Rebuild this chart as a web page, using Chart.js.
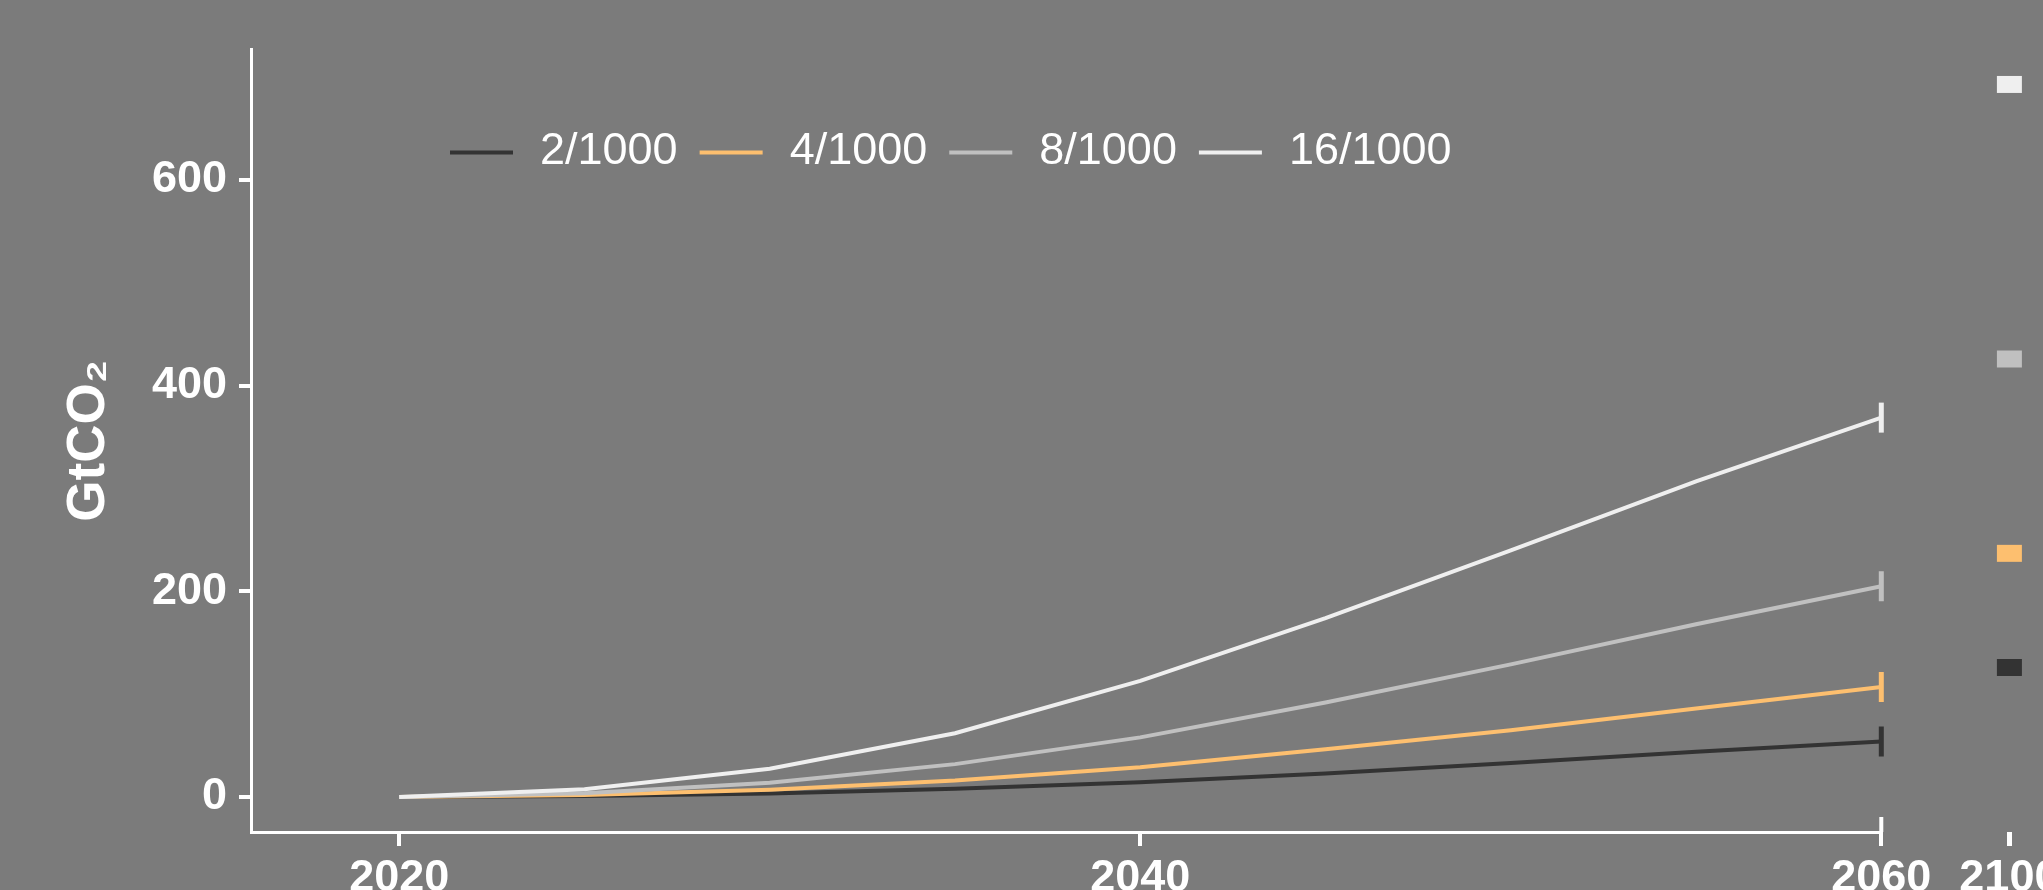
<!DOCTYPE html>
<html>
<head>
<meta charset="utf-8">
<script src="https://cdn.jsdelivr.net/npm/chart.js@4.4.0/dist/chart.umd.min.js"></script>
<style>
  html, body { margin: 0; padding: 0; background: #7b7b7b; overflow: hidden; }
  #wrap { position: relative; width: 2167px; height: 890px; }
</style>
</head>
<body>
<div id="wrap"><canvas id="chart"></canvas></div>
<script>
// cumulative removals, GtCO2
var years = [2020, 2025, 2030, 2035, 2040, 2045, 2050, 2055, 2060];
var seriesNames = ['2/1000', '4/1000', '8/1000', '16/1000'];
var seriesColors = ['#333333', '#fdbf6f', '#c0c0c0', '#efefef'];
var s2 = [0, 1, 3.5, 8, 14.5, 23, 33, 44, 54];
var s4 = [0, 1.9, 7, 16, 29, 46.5, 65, 86, 107];
var s8 = [0, 3.8, 14, 32, 58, 92, 129, 168, 205];
var s16 = [0, 7.6, 27.5, 62, 113, 174, 240, 307, 369];
var label2100 = '2100';
var values2100 = [126, 237, 426, 693];
var xTicks = [2020, 2040, 2060];
var yTicks = [0, 200, 400, 600];

var seriesValues = [s2, s4, s8, s16];
var FONT = "'Liberation Sans', Arial, Helvetica, sans-serif";
Chart.defaults.font.family = FONT;
Chart.defaults.color = '#ffffff';

var lineSets = seriesValues.map(function (vals, i) {
  return {
    label: seriesNames[i],
    data: years.map(function (yr, j) { return {x: yr, y: vals[j]}; }),
    xAxisID: 'x',
    borderColor: seriesColors[i],
    borderWidth: 4,
    tension: 0,
    fill: false,
    clip: false,
    order: 4 - i,
    pointStyle: 'line',
    pointRotation: 90,
    pointBorderWidth: 5,
    pointBorderColor: seriesColors[i],
    pointRadius: function (ctx) { return ctx.dataIndex === years.length - 1 ? 15 : 0; }
  };
});

var endSet = {
  type: 'scatter',
  label: label2100,
  data: values2100.map(function (v) { return {x: label2100, y: v}; }),
  xAxisID: 'x2',
  showLine: false,
  clip: false,
  pointStyle: 'line',
  pointRotation: 0,
  pointRadius: 12.5,
  pointBorderWidth: 17,
  pointBorderColor: seriesColors,
  pointBackgroundColor: seriesColors
};

function noPad(s) { s.paddingLeft = 0; s.paddingRight = 0; s.paddingTop = 0; s.paddingBottom = 0; }

const legendLines = {
  id: 'legendLines',
  afterDraw(chart) {
    const c = chart.ctx, a = chart.chartArea;
    // small upward tick where the time axis stops
    const xs = chart.scales.x;
    const xe = xs.getPixelForValue(xTicks[xTicks.length - 1]);
    c.save();
    c.strokeStyle = '#ffffff';
    c.lineWidth = 4;
    c.beginPath(); c.moveTo(xe, a.bottom - 15); c.lineTo(xe, a.bottom); c.stroke();

    let x = a.left + 199;
    const y = a.top + 103;
    c.font = '45px ' + FONT;
    c.textBaseline = 'middle';
    seriesNames.forEach(function (name, i) {
      c.strokeStyle = seriesColors[i];
      c.lineWidth = 4;
      c.beginPath(); c.moveTo(x, y); c.lineTo(x + 63, y); c.stroke();
      c.fillStyle = '#ffffff';
      c.fillText(name, x + 90, y - 1);
      x += 90 + c.measureText(name).width + 22;
    });
    c.restore();
  }
};

const ctx = document.getElementById('chart').getContext('2d');
const chart = new Chart(ctx, {
  type: 'line',
  data: { labels: [label2100], datasets: lineSets.concat([endSet]) },
  plugins: [legendLines],
  options: {
    responsive: true,
    maintainAspectRatio: false,
    animation: false,
    layout: { padding: { top: 49.5, right: 4, bottom: 0, left: 0 } },
    plugins: { legend: { display: false }, tooltip: { enabled: false } },
    scales: {
      x: {
        type: 'linear',
        min: 2016, max: 2060,
        stack: 'xs', stackWeight: 1629,
        afterBuildTicks: function (s) { s.ticks = xTicks.map(function (v) { return {value: v}; }); },
        afterFit: function (s) { s.height = 58; noPad(s); },
        ticks: { font: { size: 45, weight: 'bold' }, padding: 6, maxRotation: 0, callback: function (v) { return String(v); } },
        grid: { drawOnChartArea: false, drawTicks: true, tickLength: 14, color: '#ffffff', lineWidth: 4 },
        border: { display: true, color: '#ffffff', width: 3 }
      },
      x2: {
        type: 'category',
        labels: [label2100],
        offset: true,
        stack: 'xs', stackWeight: 256,
        afterFit: function (s) { s.height = 58; noPad(s); },
        ticks: { font: { size: 45, weight: 'bold' }, padding: 6, maxRotation: 0 },
        grid: { offset: false, drawOnChartArea: false, drawTicks: true, tickLength: 14, color: '#ffffff', lineWidth: 5 },
        border: { display: false }
      },
      y: {
        type: 'linear',
        min: -34, max: 727,
        afterBuildTicks: function (s) { s.ticks = yTicks.map(function (v) { return {value: v}; }); },
        afterFit: function (s) { s.width = 251; noPad(s); },
        ticks: { font: { size: 45, weight: 'bold' }, padding: 12 },
        grid: { drawOnChartArea: false, drawTicks: true, tickLength: 12, color: '#ffffff', lineWidth: 4 },
        border: { display: true, color: '#ffffff', width: 3 },
        title: { display: true, text: 'GtCO\u2082', font: { size: 53, weight: 'bold', lineHeight: 1 }, padding: { top: 63, bottom: 0 } }
      }
    }
  }
});
</script>
</body>
</html>
